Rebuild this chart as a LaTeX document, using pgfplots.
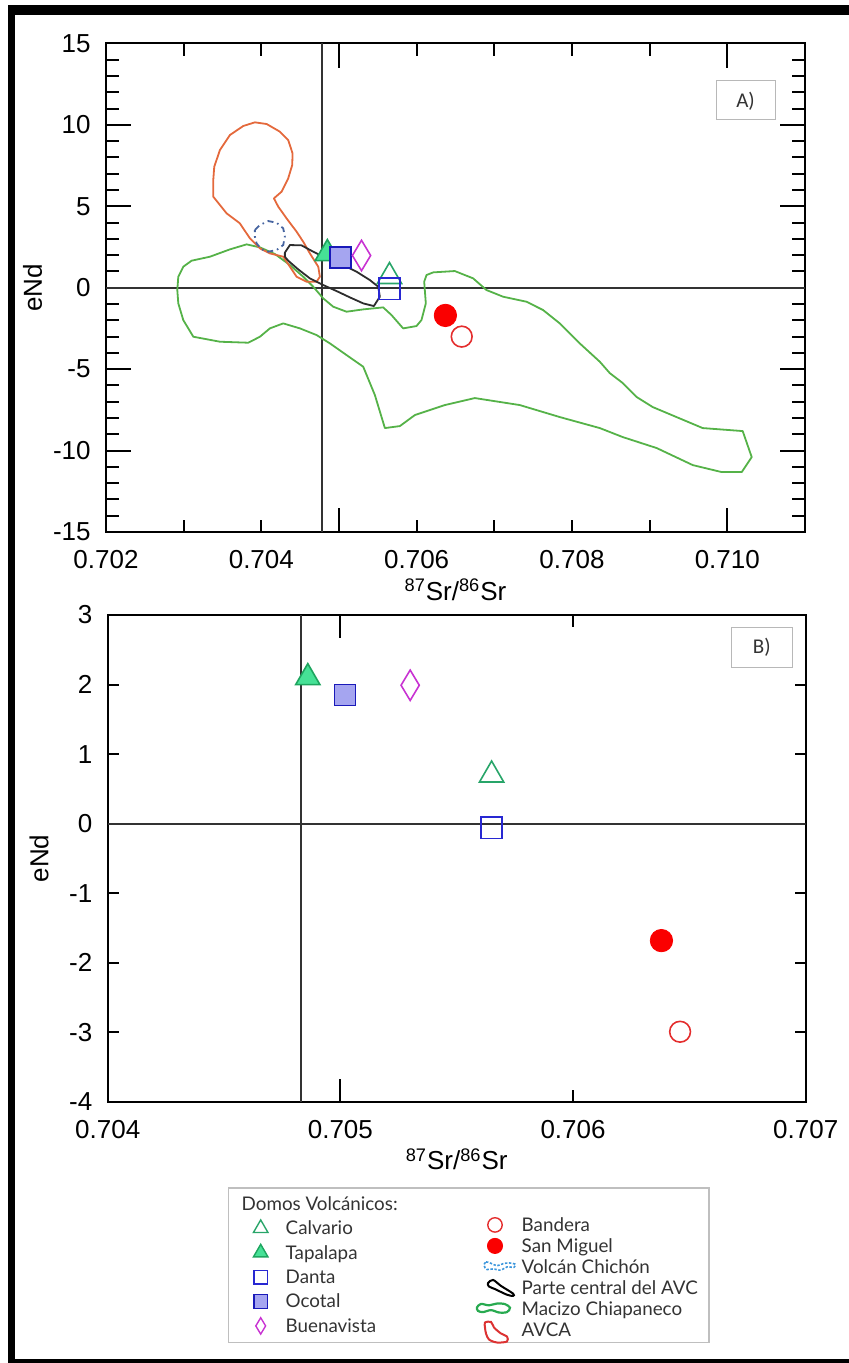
\documentclass[border=0pt]{standalone}
\usepackage{pgfplots}
\pgfplotsset{compat=1.18}
\usepackage{fontspec}
\setmainfont{Liberation Sans}
\newfontfamily\lato{Lato}
\newfontfamily\carlito{Carlito}

\definecolor{cmac}{RGB}{85,178,72}
\definecolor{cavca}{RGB}{228,105,60}
\definecolor{cchi}{RGB}{70,100,160}
\definecolor{cpar}{RGB}{45,45,45}
\definecolor{ccalv}{RGB}{40,165,105}
\definecolor{ctapf}{RGB}{70,225,150}
\definecolor{ctape}{RGB}{30,165,95}
\definecolor{cdan}{RGB}{40,40,210}
\definecolor{cocof}{RGB}{165,165,240}
\definecolor{cocoe}{RGB}{25,25,185}
\definecolor{cbue}{RGB}{200,50,210}
\definecolor{cban}{RGB}{228,45,45}
\definecolor{csan}{RGB}{250,0,0}
\definecolor{lchi}{RGB}{60,150,220}
\definecolor{lmac}{RGB}{40,170,80}
\definecolor{lavca}{RGB}{220,50,50}
\definecolor{cref}{RGB}{50,50,50}

\pgfplotsset{
  panel/.style={scale only axis, anchor=north west,
    axis line style={line width=1pt},
    every tick/.style={black, line width=1pt},
    tick align=inside, scaled ticks=false,
    /pgf/number format/assume math mode=true,
    tick label style={font=\fontsize{13}{15}\selectfont},
    label style={font=\fontsize{13}{15}\selectfont},
    xticklabel style={anchor=base, yshift=-18pt},
    yticklabel style={anchor=east, inner sep=0pt, xshift=-7.5pt},
  },
  calv/.style={only marks, mark=triangle, mark size=7pt, mark options={draw=ccalv, line width=0.8pt}},
  tapa/.style={only marks, mark=triangle*, mark size=7pt, mark options={draw=ctape, fill=ctapf, line width=0.8pt}},
  danta/.style={only marks, mark=square, mark size=5.3pt, mark options={draw=cdan, line width=0.8pt}},
  ocot/.style={only marks, mark=square*, mark size=5.3pt, mark options={draw=cocoe, fill=cocof, line width=0.8pt}},
  buen/.style={only marks, mark=diamond, mark size=7.6pt, mark options={draw=cbue, xscale=0.8, line width=0.8pt}},
  band/.style={only marks, mark=o, mark size=5.2pt, mark options={draw=cban, line width=0.8pt}},
  sanm/.style={only marks, mark=*, mark size=5.6pt, mark options={draw=csan, fill=csan}},
  legmarkL/.style={legend image code/.code={\path[use as bounding box, draw=none, fill=none] (0pt,-4.25pt) rectangle (14pt,4.25pt); \draw[##1] plot coordinates {(7pt,0.8pt)};}},
  legmarkR/.style={legend image code/.code={\path[use as bounding box, draw=none, fill=none] (0pt,-4.25pt) rectangle (17pt,4.25pt); \draw[##1] plot coordinates {(6pt,0.8pt)};}},
  legshape/.style={legend image code/.code={\path[use as bounding box, draw=none, fill=none] (0pt,-4.25pt) rectangle (17pt,4.25pt); #1}},
}

\begin{document}
\begin{tikzpicture}
\path[use as bounding box] (0,0) rectangle (424.5pt,-681.5pt);
% outer frame
\fill[black] (4pt,-2.5pt) rectangle (424.5pt,-7.5pt);
\fill[black] (3.75pt,-2.5pt) rectangle (7.5pt,-681.5pt);
\fill[black] (3.75pt,-679.3pt) rectangle (424.5pt,-681.5pt);

% ---------------- Panel A ----------------
\begin{axis}[panel, at={(53pt,-21.75pt)}, width=349.5pt, height=244.25pt,
  xmin=0.702, xmax=0.711, ymin=-15, ymax=15,
  xtick={0.705,0.710}, xticklabels={,},
  minor xtick={0.703,0.704,0.706,0.707,0.708,0.709},
  extra x ticks={0.702,0.704,0.706,0.708,0.710},
  extra x tick labels={0.702,0.704,0.706,0.708,0.710},
  extra x tick style={major tick length=6.25pt},
  ytick={-15,-10,-5,0,5,10,15}, minor y tick num=4,
  major tick length=12.25pt, minor tick length=6.25pt,
  xlabel={\textsuperscript{87}Sr/\textsuperscript{86}Sr},
  ylabel={eNd},
  xlabel style={at={(axis description cs:0.5,-0.1392)}, anchor=base},
  ylabel style={at={(axis description cs:-0.1052,0.5)}, anchor=center},
]
\addplot[cref, line width=1pt] coordinates {(0.702,0) (0.711,0)};
\addplot[cref, line width=1pt] coordinates {(0.704776,-15) (0.704776,15)};
% Macizo Chiapaneco
\addplot[cmac, line width=0.9pt, line join=round] coordinates {
(0.702918,-0.141) (0.702931,0.678) (0.702995,1.292) (0.703102,1.661) (0.703338,1.906)
(0.703596,2.357) (0.703810,2.664) (0.703982,2.480) (0.704175,2.070) (0.704368,1.395)
(0.704539,0.678) (0.704668,0.064) (0.704797,-0.653) (0.704926,-1.165) (0.705097,-1.472)
(0.705312,-1.329) (0.705569,-1.206) (0.705676,-1.677) (0.705826,-2.496) (0.705998,-2.352)
(0.706062,-1.984) (0.706118,-0.960) (0.706097,0.371) (0.706127,0.780) (0.706213,0.944)
(0.706491,1.026) (0.706727,0.576) (0.706899,-0.141) (0.707113,-0.551) (0.707414,-0.858)
(0.707628,-1.370) (0.707843,-2.189) (0.708100,-3.417) (0.708358,-4.543)
(0.708486,-5.240) (0.708654,-5.854) (0.708834,-6.714) (0.709040,-7.328) (0.709683,-8.618)
(0.710198,-8.802) (0.710314,-10.399) (0.710185,-11.321) (0.709928,-11.321) (0.709555,-10.891)
(0.709091,-9.846) (0.708654,-9.171) (0.708358,-8.618)
(0.707843,-7.942) (0.707328,-7.205) (0.706749,-6.775) (0.706363,-7.205) (0.705977,-7.819)
(0.705784,-8.495) (0.705591,-8.618) (0.705462,-6.590)
(0.705312,-4.850) (0.705097,-4.134) (0.704883,-3.417) (0.704711,-2.905) (0.704497,-2.496)
(0.704282,-2.189) (0.704110,-2.496) (0.703982,-3.008) (0.703832,-3.376) (0.703467,-3.315)
(0.703124,-3.008) (0.702995,-1.984) (0.702931,-0.960) (0.702918,-0.141)};
% AVCA
\addplot[cavca, line width=0.9pt, line join=round] coordinates {
(0.704711,0.371) (0.704582,0.371) (0.704454,0.678) (0.704368,1.292) (0.704282,1.906)
(0.704110,2.111) (0.703982,2.418) (0.703853,3.033) (0.703724,3.954) (0.703553,4.568)
(0.703381,5.592) (0.703381,6.616) (0.703394,7.435) (0.703467,8.458) (0.703596,9.380)
(0.703767,9.933) (0.703917,10.158) (0.704068,10.056) (0.704239,9.585) (0.704346,9.073)
(0.704402,8.254) (0.704398,7.537) (0.704346,6.718) (0.704261,5.899) (0.704162,5.490)
(0.704218,4.978) (0.704325,4.261) (0.704454,3.442) (0.704539,2.828) (0.704625,2.111)
(0.704733,1.292) (0.704754,0.678) (0.704711,0.371)};
% Volcan Chichon
\addplot[cchi, line width=0.9pt, dash pattern=on 3pt off 2pt on 0.8pt off 2pt] coordinates {
(0.703917,3.544) (0.703982,3.852) (0.704089,4.097) (0.704196,3.995) (0.704282,3.647)
(0.704303,3.135) (0.704282,2.623) (0.704196,2.316) (0.704089,2.214) (0.704003,2.357)
(0.703939,2.725) (0.703917,3.135) (0.703917,3.544)};
% Parte central del AVC
\addplot[cpar, line width=0.9pt, line join=round] coordinates {
(0.704303,2.152) (0.704368,2.623) (0.704518,2.603) (0.704668,2.214) (0.704840,1.804)
(0.705054,1.395) (0.705226,0.985) (0.705397,0.473) (0.705505,0.064) (0.705526,-0.551)
(0.705449,-1.124) (0.705312,-0.960) (0.705140,-0.591) (0.704968,-0.202) (0.704797,0.166)
(0.704625,0.576) (0.704475,1.128) (0.704346,1.661) (0.704303,1.906) (0.704303,2.152)};
% samples
\addplot[tapa] coordinates {(0.70485,2.1)};
\addplot[ocot] coordinates {(0.70502,1.85)};
\addplot[buen] coordinates {(0.70529,1.98)};
\addplot[calv] coordinates {(0.70565,0.69)};
\addplot[danta] coordinates {(0.70565,-0.07)};
\addplot[sanm] coordinates {(0.70637,-1.70)};
\addplot[band] coordinates {(0.70658,-3.00)};
\end{axis}

% ---------------- Panel B ----------------
\begin{axis}[panel, at={(53.85pt,-307.5pt)}, width=349pt, height=243.5pt,
  xmin=0.704, xmax=0.707, ymin=-4, ymax=3,
  xtick={0.705}, xticklabels={,},
  extra x ticks={0.704,0.705,0.706,0.707},
  extra x tick labels={0.704,0.705,0.706,0.707},
  extra x tick style={major tick length=6pt},
  ytick=\empty,
  extra y ticks={-4,-3,-2,-1,0,1,2,3},
  extra y tick labels={-4,-3,-2,-1,0,1,2,3},
  extra y tick style={major tick length=5.5pt},
  major tick length=11.5pt,
  xlabel={\textsuperscript{87}Sr/\textsuperscript{86}Sr},
  ylabel={eNd},
  xlabel style={at={(axis description cs:0.5,-0.1396)}, anchor=base},
  ylabel style={at={(axis description cs:-0.0983,0.5)}, anchor=center},
]
\addplot[cref, line width=1pt] coordinates {(0.704,0) (0.707,0)};
\addplot[cref, line width=1pt] coordinates {(0.704829,-4) (0.704829,3)};
\addplot[tapa] coordinates {(0.70486,2.1)};
\addplot[ocot] coordinates {(0.70502,1.85)};
\addplot[buen] coordinates {(0.70530,1.99)};
\addplot[calv] coordinates {(0.70565,0.70)};
\addplot[danta] coordinates {(0.70565,-0.06)};
\addplot[sanm] coordinates {(0.70638,-1.68)};
\addplot[band] coordinates {(0.70646,-2.99)};
\end{axis}

% panel labels
\draw[black!28, line width=0.5pt] (358pt,-40.5pt) rectangle (387.5pt,-60pt);
\node[font=\carlito\fontsize{10.5}{12}\selectfont, text=black!80] at (372.75pt,-50.5pt) {A)};
\draw[black!28, line width=0.5pt] (365.85pt,-313.5pt) rectangle (396pt,-333.5pt);
\node[font=\carlito\fontsize{10.5}{12}\selectfont, text=black!80] at (380.9pt,-323.5pt) {B)};

% legend frame
\draw[black!25, line width=0.6pt] (114.15pt,-594pt) rectangle (354.5pt,-671.35pt);

% left legend
\begin{axis}[hide axis, scale only axis, width=10pt, height=10pt, xmin=0, xmax=1, ymin=0, ymax=1,
  anchor=north west, at={(123.35pt,-598.5pt)},
  legend cell align=left,
  legend style={at={(0,1)}, anchor=north west, draw=none, fill=none, inner sep=0pt, outer sep=0pt,
    row sep=3.7pt, font=\lato\fontsize{9.4}{10}\selectfont, text=black!80,
    nodes={inner sep=0pt, text height=6.6pt, text depth=1.9pt},
    /tikz/every odd column/.style={column sep=5.5pt}},
]
\addplot[draw=none, forget plot] coordinates {(0.5,0.5)};
\addlegendimage{empty legend}\addlegendentry{\hspace*{-22pt}Domos Volcánicos:}
\addlegendimage{legmarkL, mark=triangle, mark size=4.2pt, draw=ccalv, line width=0.7pt}\addlegendentry{Calvario}
\addlegendimage{legmarkL, mark=triangle*, mark size=4.2pt, draw=ctape, fill=ctapf, line width=0.7pt}\addlegendentry{Tapalapa}
\addlegendimage{legmarkL, mark=square, mark size=3.4pt, draw=cdan, line width=0.7pt}\addlegendentry{Danta}
\addlegendimage{legmarkL, mark=square*, mark size=3.4pt, draw=cocoe, fill=cocof, line width=0.7pt}\addlegendentry{Ocotal}
\addlegendimage{legmarkL, mark=diamond, mark size=4.1pt, draw=cbue, line width=0.7pt, mark options={xscale=0.8}}\addlegendentry{Buenavista}
\end{axis}

% right legend
\begin{axis}[hide axis, scale only axis, width=10pt, height=10pt, xmin=0, xmax=1, ymin=0, ymax=1,
  anchor=north west, at={(241.5pt,-609pt)},
  legend cell align=left,
  legend style={at={(0,1)}, anchor=north west, draw=none, fill=none, inner sep=0pt, outer sep=0pt,
    row sep=2pt, font=\lato\fontsize{9.4}{10}\selectfont, text=black!80,
    nodes={inner sep=0pt, text height=6.6pt, text depth=1.9pt},
    /tikz/every odd column/.style={column sep=2.35pt}},
]
\addplot[draw=none, forget plot] coordinates {(0.5,0.5)};
\addlegendimage{legmarkR, mark=o, mark size=3.6pt, draw=cban, line width=0.7pt}\addlegendentry{Bandera}
\addlegendimage{legmarkR, mark=*, mark size=3.8pt, draw=csan, fill=csan}\addlegendentry{San Miguel}
\addlegendimage{legshape={\draw[lchi, line width=0.8pt, dash pattern=on 1.2pt off 0.8pt] plot[smooth cycle] coordinates {(0.5pt,1.5pt) (1.5pt,3.3pt) (4pt,2.6pt) (7pt,1.4pt) (10pt,2.4pt) (13pt,2.8pt) (16pt,2.2pt) (15.5pt,0.6pt) (12pt,0.8pt) (9pt,-0.8pt) (5pt,-0.2pt) (2pt,-0.5pt)};}}\addlegendentry{Volcán Chichón}
\addlegendimage{legshape={\draw[black, line width=1pt] plot[smooth cycle] coordinates {(2.5pt,3.2pt) (5pt,4.8pt) (9pt,1.8pt) (15pt,-2pt) (15pt,-3.2pt) (12pt,-2.6pt) (6pt,0.2pt) (3pt,1.5pt)};}}\addlegendentry{Parte central del AVC}
\addlegendimage{legshape={\draw[lmac, line width=1.1pt] plot[smooth cycle] coordinates {(-3pt,1.6pt) (-1pt,3.3pt) (3pt,2.6pt) (7pt,3.5pt) (11pt,3.2pt) (13.5pt,1.4pt) (12pt,-0.8pt) (8pt,-1pt) (4pt,0.2pt) (0pt,-0.8pt) (-2.5pt,-0.2pt)};}}\addlegendentry{Macizo Chiapaneco}
\addlegendimage{legshape={\draw[lavca, line width=1pt] plot[smooth cycle] coordinates {(1pt,4.5pt) (4pt,4.8pt) (5.5pt,2pt) (9pt,-1pt) (12pt,-2.5pt) (12pt,-5pt) (7pt,-5.5pt) (3pt,-4pt) (1.5pt,-1pt) (1pt,2pt)};}}\addlegendentry{AVCA}
\end{axis}
\end{tikzpicture}
\end{document}
